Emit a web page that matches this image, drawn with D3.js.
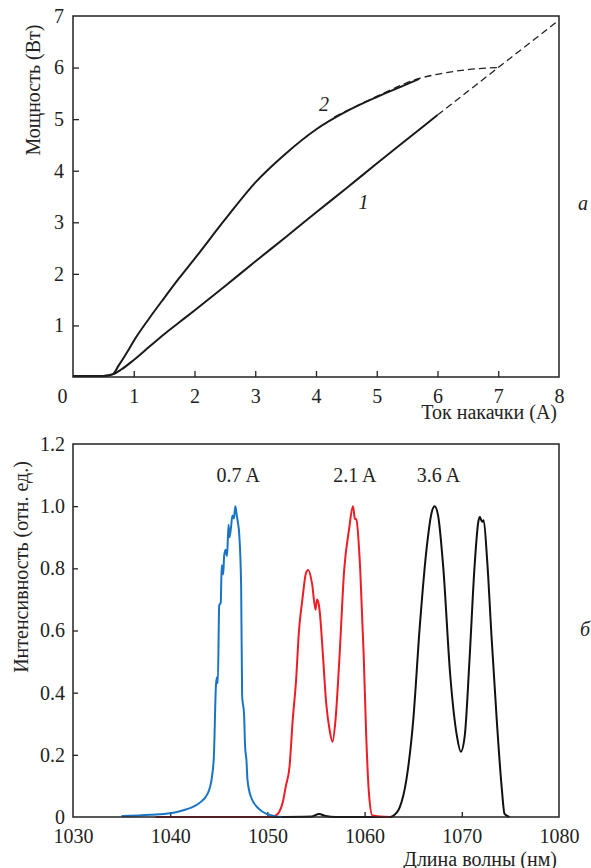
<!DOCTYPE html>
<html>
<head>
<meta charset="utf-8">
<script src="https://cdn.jsdelivr.net/npm/d3@7"></script>
</head>
<body style="margin:0">
<svg id="chart" width="591" height="868" style="display:block"></svg>
<script>
// ---- panel a: output power vs pump current ----
var curve1 = [[0,0.02],[0.5,0.02],[0.65,0.05],[0.8,0.15],[1,0.33],[1.25,0.58],[1.5,0.83],[1.75,1.06],[2,1.29],[2.5,1.76],[3,2.24],[3.5,2.71],[4,3.19],[4.5,3.66],[5,4.14],[5.5,4.61],[6,5.08]];
var curve1Fit = [[6,5.08],[7,6.0],[8,6.92]];
var curve2 = [[0,0.02],[0.5,0.02],[0.65,0.05],[0.75,0.22],[0.9,0.5],[1,0.7],[1.25,1.13],[1.5,1.53],[1.75,1.92],[2,2.29],[2.5,3.05],[3,3.77],[3.5,4.33],[4,4.8],[4.5,5.15],[5,5.43],[5.5,5.68],[5.7,5.78]];
var curve2Fit = [[4.3,5.04],[5,5.44],[5.7,5.79],[6,5.87],[6.5,5.96],[7,6.0]];
var powerXTicks = [0,1,2,3,4,5,6,7,8];
var powerYTicks = [1,2,3,4,5,6,7];

// ---- panel b: spectra ----
var spec07 = [[1035,0.003],[1038,0.007],[1040,0.012],[1041.6,0.024],[1043,0.045],[1043.85,0.075],[1044.3,0.13],[1044.5,0.2],[1044.7,0.42],[1044.8,0.45],[1044.9,0.43],[1045.04,0.68],[1045.2,0.69],[1045.3,0.81],[1045.45,0.78],[1045.55,0.84],[1045.7,0.86],[1045.85,0.84],[1046.0,0.94],[1046.1,0.9],[1046.25,0.93],[1046.4,0.97],[1046.55,0.96],[1046.7,1.0],[1046.85,0.97],[1046.95,0.95],[1047.1,0.91],[1047.3,0.74],[1047.4,0.39],[1047.6,0.33],[1047.7,0.23],[1047.85,0.18],[1047.95,0.12],[1048.3,0.065],[1049.1,0.027],[1050,0.009],[1050.85,0.002],[1051.5,0]];
var spec21 = [[1038.5,0],[1050.3,0],[1050.8,0.004],[1051.2,0.015],[1051.6,0.05],[1051.9,0.1],[1052.27,0.16],[1052.6,0.31],[1052.95,0.44],[1053.25,0.6],[1053.6,0.7],[1053.97,0.785],[1054.2,0.795],[1054.6,0.75],[1054.95,0.667],[1055.1,0.7],[1055.25,0.69],[1055.4,0.656],[1055.7,0.527],[1056.05,0.366],[1056.4,0.28],[1056.7,0.242],[1057.0,0.31],[1057.4,0.505],[1057.9,0.795],[1058.4,0.925],[1058.8,1.0],[1059.0,0.96],[1059.15,0.957],[1059.55,0.796],[1059.9,0.527],[1060.17,0.258],[1060.45,0.075],[1060.8,0.005],[1062.6,0]];
var spec36 = [[1050.5,0],[1054.6,0.002],[1055.3,0.01],[1056,0.003],[1057,0],[1062.6,0],[1062.9,0.003],[1063.6,0.03],[1064.3,0.12],[1065.0,0.31],[1065.67,0.61],[1066.4,0.87],[1066.9,0.98],[1067.2,1.0],[1067.56,0.97],[1068.1,0.8],[1068.8,0.46],[1069.5,0.26],[1069.9,0.21],[1070.3,0.26],[1070.8,0.51],[1071.3,0.8],[1071.7,0.95],[1071.86,0.965],[1072.0,0.955],[1072.1,0.95],[1072.25,0.955],[1072.6,0.83],[1073.06,0.58],[1073.6,0.31],[1074.1,0.097],[1074.4,0.01],[1074.9,0]];
var specLabels = [["0.7 A",1047.0],["2.1 A",1059.0],["3.6 A",1067.6]];
var specXTicks = [1030,1040,1050,1060,1070,1080];
var specYTicks = [0,0.2,0.4,0.6,0.8,1.0,1.2];

var FONT = '"Liberation Serif"';
var svg = d3.select('#chart').attr('font-family', FONT);

function frame(g, w, h) {
  g.append('rect')
    .attr('width', w).attr('height', h)
    .attr('fill', 'none').attr('stroke', '#222').attr('stroke-width', 1.5);
}

function styleAxis(sel) {
  sel.attr('font-family', FONT).attr('font-size', 20);
  sel.select('.domain').remove();
  sel.selectAll('.tick line').attr('stroke', '#222').attr('stroke-width', 1.3);
  sel.selectAll('.tick text').attr('fill', '#222').attr('font-size', 20);
}

function label(parent, x, y, txt, opts) {
  opts = opts || {};
  var t = parent.append('text')
    .attr('x', x).attr('y', y)
    .attr('font-size', opts.size || 20)
    .attr('text-anchor', opts.anchor || 'start')
    .attr('fill', '#222')
    .text(txt);
  if (opts.italic) t.attr('font-style', 'italic');
  if (opts.rotate) t.attr('transform', 'rotate(-90,' + x + ',' + y + ')');
  return t;
}

// ===== top panel =====
var topM = {left: 73, top: 16, w: 486, h: 361};
var gTop = svg.append('g').attr('transform', 'translate(' + topM.left + ',' + topM.top + ')');
var xP = d3.scaleLinear().domain([0, 8]).range([0, topM.w]);
var yP = d3.scaleLinear().domain([0, 7]).range([topM.h, 0]);

var ax = gTop.append('g').attr('transform', 'translate(0,' + topM.h + ')')
  .call(d3.axisBottom(xP).tickValues(powerXTicks).tickSize(-6).tickPadding(12).tickFormat(d3.format('d')));
styleAxis(ax);
ax.selectAll('.tick').filter(function(d) { return d === 0 || d === 8; }).select('line').remove();
ax.selectAll('.tick').filter(function(d) { return d === 0; }).select('text').attr('dx', -11);

var ay = gTop.append('g')
  .call(d3.axisLeft(yP).tickValues(powerYTicks).tickSize(-6).tickPadding(9).tickFormat(d3.format('d')));
styleAxis(ay);
ay.selectAll('.tick').filter(function(d) { return d === 7; }).select('line').remove();

var lineP = d3.line().x(function(d) { return xP(d[0]); }).y(function(d) { return yP(d[1]); }).curve(d3.curveMonotoneX);

gTop.append('path').datum(curve2Fit).attr('d', lineP)
  .attr('fill', 'none').attr('stroke', '#222').attr('stroke-width', 1.3).attr('stroke-dasharray', '7,4');
gTop.append('path').datum(curve1Fit).attr('d', lineP)
  .attr('fill', 'none').attr('stroke', '#222').attr('stroke-width', 1.3).attr('stroke-dasharray', '7,4');
gTop.append('path').datum(curve1).attr('d', lineP)
  .attr('fill', 'none').attr('stroke', '#1a1a1a').attr('stroke-width', 2);
gTop.append('path').datum(curve2).attr('d', lineP)
  .attr('fill', 'none').attr('stroke', '#1a1a1a').attr('stroke-width', 2);

frame(gTop, topM.w, topM.h);

label(gTop, xP(4.05), yP(5.15), '2', {italic: true});
label(gTop, xP(4.7), yP(3.25), '1', {italic: true});

label(svg, 557, 419, 'Ток накачки (А)', {anchor: 'end'});
label(svg, 40, 90, 'Мощность (Вт)', {anchor: 'middle', rotate: true});
label(svg, 578, 210, 'а', {italic: true});

// ===== bottom panel =====
var botM = {left: 73, top: 444, w: 486, h: 373};
var gBot = svg.append('g').attr('transform', 'translate(' + botM.left + ',' + botM.top + ')');
var xS = d3.scaleLinear().domain([1030, 1080]).range([0, botM.w]);
var yS = d3.scaleLinear().domain([0, 1.2]).range([botM.h, 0]);

var bx = gBot.append('g').attr('transform', 'translate(0,' + botM.h + ')')
  .call(d3.axisBottom(xS).tickValues(specXTicks).tickSize(-5).tickPadding(12).tickFormat(d3.format('d')));
styleAxis(bx);
bx.selectAll('.tick').filter(function(d) { return d === 1030 || d === 1080; }).select('line').remove();

var by = gBot.append('g')
  .call(d3.axisLeft(yS).tickValues(specYTicks).tickSize(-5).tickPadding(8)
    .tickFormat(function(d) { return d === 0 ? '0' : d3.format('.1f')(d); }));
styleAxis(by);
by.selectAll('.tick').filter(function(d) { return d === 0 || d === 1.2; }).select('line').remove();

var lineS = d3.line().x(function(d) { return xS(d[0]); }).y(function(d) { return yS(d[1]); }).curve(d3.curveMonotoneX);

gBot.append('path').datum(spec36).attr('d', lineS)
  .attr('fill', 'none').attr('stroke', '#111').attr('stroke-width', 2);
gBot.append('path').datum(spec21).attr('d', lineS)
  .attr('fill', 'none').attr('stroke', '#ee1c25').attr('stroke-width', 2);
gBot.append('path').datum(spec07).attr('d', lineS)
  .attr('fill', 'none').attr('stroke', '#1a74c4').attr('stroke-width', 2);

frame(gBot, botM.w, botM.h);

specLabels.forEach(function(d) {
  label(gBot, xS(d[1]), yS(1.1) + 7, d[0], {anchor: 'middle'});
});

label(svg, 557, 866, 'Длина волны (нм)', {anchor: 'end'});
label(svg, 28, 567, 'Интенсивность (отн. ед.)', {anchor: 'middle', rotate: true});
label(svg, 580, 636, 'б', {italic: true});

// inline !important so nothing else can swap the serif face out
svg.selectAll('text').style('font-family', '"Liberation Serif"', 'important');
</script>
</body>
</html>
